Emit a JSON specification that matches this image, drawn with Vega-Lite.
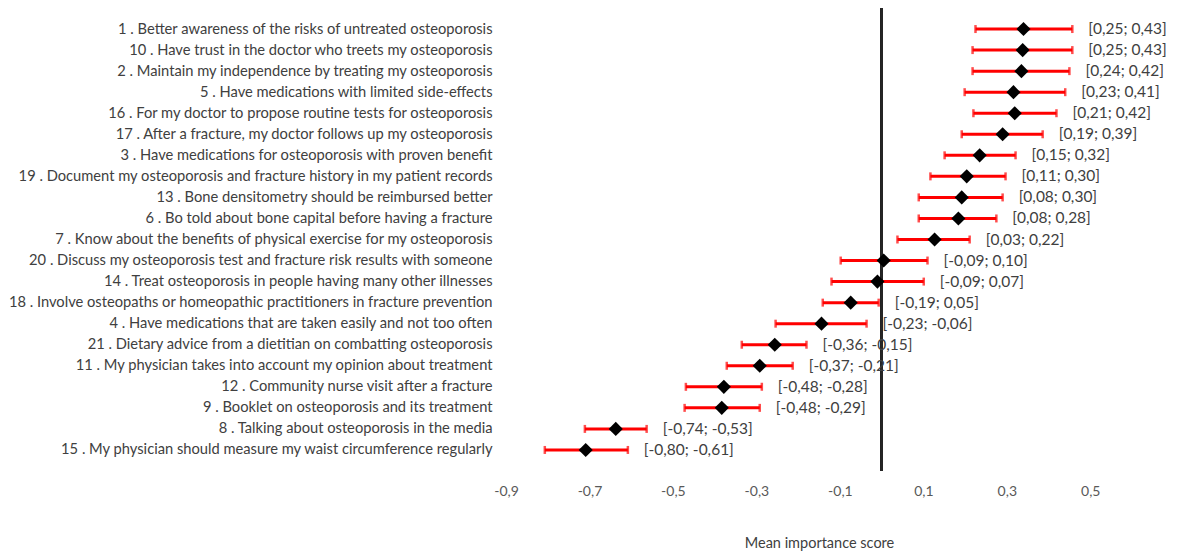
{
  "$schema": "https://vega.github.io/schema/vega-lite/v6.json",
  "autosize": {"type": "none"},
  "padding": {"left": 506, "top": 8, "right": 54, "bottom": 81},
  "width": 626,
  "height": 463,
  "background": "white",
  "config": {"view": {"stroke": null}, "font": "Lato"},
  "data": {"values": [
    {"item": "1 . Better awareness of the risks of untreated osteoporosis", "lo": 0.225, "hi": 0.457, "mean": 0.340, "ci": "[0,25; 0,43]"},
    {"item": "10 . Have trust in the doctor who treets my osteoporosis", "lo": 0.218, "hi": 0.457, "mean": 0.338, "ci": "[0,25; 0,43]"},
    {"item": "2 . Maintain my independence by treating my osteoporosis", "lo": 0.218, "hi": 0.450, "mean": 0.335, "ci": "[0,24; 0,42]"},
    {"item": "5 . Have medications with limited side-effects", "lo": 0.199, "hi": 0.440, "mean": 0.316, "ci": "[0,23; 0,41]"},
    {"item": "16 . For my doctor to propose routine tests for osteoporosis", "lo": 0.220, "hi": 0.419, "mean": 0.319, "ci": "[0,21; 0,42]"},
    {"item": "17 . After a fracture, my doctor follows up my osteoporosis", "lo": 0.192, "hi": 0.386, "mean": 0.290, "ci": "[0,19; 0,39]"},
    {"item": "3 . Have medications for osteoporosis with proven benefit", "lo": 0.151, "hi": 0.321, "mean": 0.235, "ci": "[0,15; 0,32]"},
    {"item": "19 . Document my osteoporosis and fracture history in my patient records", "lo": 0.117, "hi": 0.297, "mean": 0.204, "ci": "[0,11; 0,30]"},
    {"item": "13 . Bone densitometry should be reimbursed better", "lo": 0.089, "hi": 0.290, "mean": 0.192, "ci": "[0,08; 0,30]"},
    {"item": "6 . Bo told about bone capital before having a fracture", "lo": 0.089, "hi": 0.275, "mean": 0.184, "ci": "[0,08; 0,28]"},
    {"item": "7 . Know about the benefits of physical exercise for my osteoporosis", "lo": 0.038, "hi": 0.211, "mean": 0.127, "ci": "[0,03; 0,22]"},
    {"item": "20 . Discuss my osteoporosis test and fracture risk results with someone", "lo": -0.098, "hi": 0.110, "mean": 0.005, "ci": "[-0,09; 0,10]"},
    {"item": "14 . Treat osteoporosis in people having many other illnesses", "lo": -0.120, "hi": 0.101, "mean": -0.010, "ci": "[-0,09; 0,07]"},
    {"item": "18 . Involve osteopaths or homeopathic practitioners in fracture prevention", "lo": -0.141, "hi": -0.007, "mean": -0.074, "ci": "[-0,19; 0,05]"},
    {"item": "4 . Have medications that are taken easily and not too often", "lo": -0.254, "hi": -0.036, "mean": -0.144, "ci": "[-0,23; -0,06]"},
    {"item": "21 . Dietary advice from a dietitian on combatting osteoporosis", "lo": -0.335, "hi": -0.180, "mean": -0.256, "ci": "[-0,36; -0,15]"},
    {"item": "11 . My physician takes into account my opinion about treatment", "lo": -0.371, "hi": -0.213, "mean": -0.292, "ci": "[-0,37; -0,21]"},
    {"item": "12 . Community nurse visit after a fracture", "lo": -0.469, "hi": -0.287, "mean": -0.378, "ci": "[-0,48; -0,28]"},
    {"item": "9 . Booklet on osteoporosis and its treatment", "lo": -0.472, "hi": -0.292, "mean": -0.383, "ci": "[-0,48; -0,29]"},
    {"item": "8 . Talking about osteoporosis in the media", "lo": -0.711, "hi": -0.563, "mean": -0.637, "ci": "[-0,74; -0,53]"},
    {"item": "15 . My physician should measure my waist circumference regularly", "lo": -0.807, "hi": -0.608, "mean": -0.709, "ci": "[-0,80; -0,61]"}
  ]},
  "encoding": {
    "y": {
      "field": "item", "type": "ordinal", "sort": null,
      "scale": {"type": "point", "padding": 1},
      "axis": {
        "title": null, "domain": false, "ticks": false, "grid": false,
        "labelPadding": 14, "labelLimit": 0, "labelFont": "Lato", "labelFontSize": 14.7,
        "labelColor": "#404040"
      }
    }
  },
  "layer": [
    {
      "mark": {"type": "rule", "color": "#262626", "strokeWidth": 1.6},
      "encoding": {"x": {"datum": 0, "type": "quantitative"}, "y": null}
    },
    {
      "mark": {"type": "rule", "color": "#FF0000", "strokeWidth": 3},
      "encoding": {
        "x": {
          "field": "lo", "type": "quantitative",
          "scale": {"domain": [-0.9, 0.6], "nice": false, "zero": false},
          "axis": {
            "values": [-0.9, -0.7, -0.5, -0.3, -0.1, 0.1, 0.3, 0.5],
            "labelExpr": "(datum.value < 0 ? '-' : '') + replace(format(abs(datum.value), '.1f'), '.', ',')",
            "domain": false, "ticks": false, "grid": false, "labelFlush": false,
            "labelFont": "Lato", "labelFontSize": 14, "labelColor": "#595959", "labelPadding": 13,
            "title": "Mean importance score", "titleFont": "Lato", "titleFontSize": 14.5,
            "titleFontWeight": "normal", "titleColor": "#404040", "titlePadding": 38
          }
        },
        "x2": {"field": "hi"}
      }
    },
    {
      "mark": {"type": "tick", "color": "#FF0000", "size": 8, "thickness": 2.5, "orient": "vertical"},
      "encoding": {"x": {"field": "lo", "type": "quantitative"}}
    },
    {
      "mark": {"type": "tick", "color": "#FF0000", "size": 8, "thickness": 2.5, "orient": "vertical"},
      "encoding": {"x": {"field": "hi", "type": "quantitative"}}
    },
    {
      "mark": {"type": "point", "shape": "diamond", "filled": true, "color": "black", "size": 200, "opacity": 1},
      "encoding": {"x": {"field": "mean", "type": "quantitative"}}
    },
    {
      "mark": {"type": "text", "align": "left", "baseline": "middle", "dx": 16, "font": "Lato", "fontSize": 15.5, "color": "#404040"},
      "encoding": {"x": {"field": "hi", "type": "quantitative"}, "text": {"field": "ci"}}
    }
  ]
}
